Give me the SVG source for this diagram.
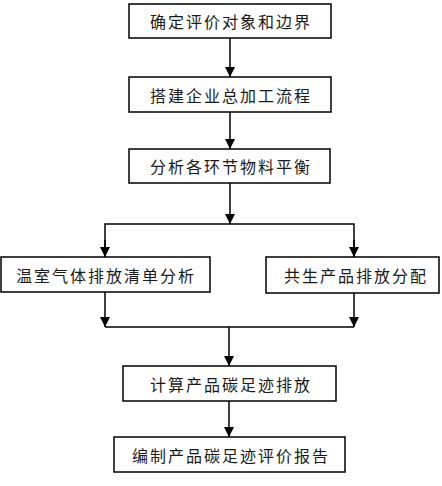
<svg xmlns="http://www.w3.org/2000/svg" width="442" height="486" viewBox="0 0 442 486">
<style>
.box{fill:#fff;stroke:#000;stroke-width:1.5}
.t{font-family:"Noto Sans CJK SC","Noto Sans CJK JP",sans-serif;font-size:16px;letter-spacing:2px;fill:#1a1a1a;text-anchor:middle;dominant-baseline:central}
.c{fill:none;stroke:#000;stroke-width:1.5}
</style>
<defs>
<marker id="ah" viewBox="0 0 10 10" refX="10" refY="5" markerWidth="10" markerHeight="10" markerUnits="userSpaceOnUse" orient="auto">
<path d="M0,0 L10,5 L0,10 Z" fill="#000"/>
</marker>
</defs>
<rect width="442" height="486" fill="#fff"/>
<g id="connectors">
<line class="c" x1="230" y1="38" x2="230" y2="77" marker-end="url(#ah)"/>
<line class="c" x1="230" y1="112" x2="230" y2="149" marker-end="url(#ah)"/>
<line class="c" x1="230" y1="183" x2="230" y2="224" marker-end="url(#ah)"/>
<polyline class="c" points="105,257 105,224 354,224 354,257"/>
<line class="c" x1="105" y1="240" x2="105" y2="257" marker-end="url(#ah)"/>
<line class="c" x1="354" y1="240" x2="354" y2="257" marker-end="url(#ah)"/>
<line class="c" x1="105" y1="292" x2="105" y2="327" marker-end="url(#ah)"/>
<line class="c" x1="354" y1="293" x2="354" y2="327" marker-end="url(#ah)"/>
<line class="c" x1="105" y1="327" x2="354" y2="327"/>
<line class="c" x1="229" y1="327" x2="229" y2="366" marker-end="url(#ah)"/>
<line class="c" x1="229" y1="401" x2="229" y2="437" marker-end="url(#ah)"/>
</g>
<g id="n1"><rect class="box" x="129" y="4" width="202" height="34"/><text class="t" x="231" y="21">确定评价对象和边界</text></g>
<g id="n2"><rect class="box" x="129" y="77" width="202" height="35"/><text class="t" x="231" y="94.5">搭建企业总加工流程</text></g>
<g id="n3"><rect class="box" x="129" y="149" width="201" height="34"/><text class="t" x="231" y="166">分析各环节物料平衡</text></g>
<g id="n4"><rect class="box" x="1" y="257" width="209" height="35"/><text class="t" x="106" y="274.5">温室气体排放清单分析</text></g>
<g id="n5"><rect class="box" x="266" y="257" width="173" height="36"/><text class="t" x="356" y="275">共生产品排放分配</text></g>
<g id="n6"><rect class="box" x="123" y="366" width="213" height="35"/><text class="t" x="231" y="383.5">计算产品碳足迹排放</text></g>
<g id="n7"><rect class="box" x="114" y="437" width="231" height="35"/><text class="t" x="231" y="454.5">编制产品碳足迹评价报告</text></g>
</svg>
